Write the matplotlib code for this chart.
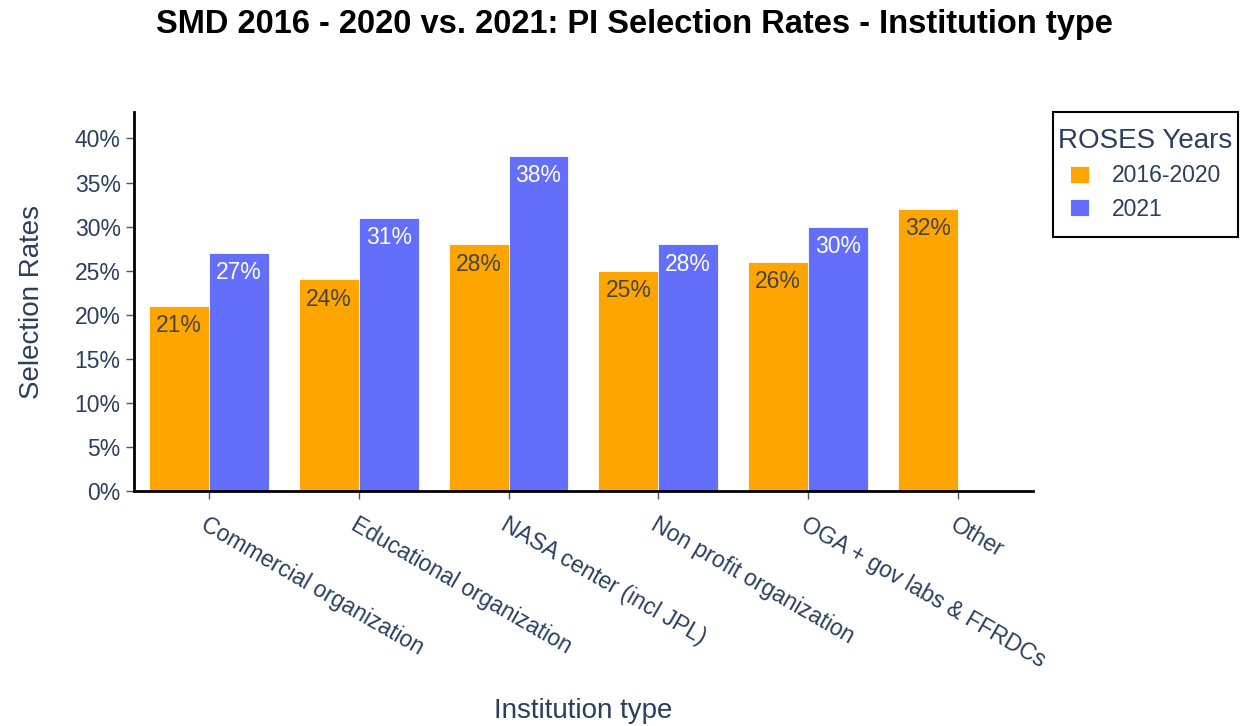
import numpy as np
import matplotlib
matplotlib.use("Agg")
from matplotlib import pyplot as plt
from matplotlib.ticker import FuncFormatter
from matplotlib.offsetbox import DrawingArea

plt.rcParams['font.family'] = ['Liberation Sans', 'DejaVu Sans']

categories = ["Commercial organization", "Educational organization",
              "NASA center (incl JPL)", "Non profit organization",
              "OGA + gov labs & FFRDCs", "Other"]
rates_2016_2020 = [21, 24, 28, 25, 26, 32]
rates_2021 = [27, 31, 38, 28, 30, None]

c_old = "#FFA500"
c_new = "#636EFA"
txt = "#2a3f5f"

fig = plt.figure(figsize=(12.4, 7.26), dpi=100)
ax = fig.add_axes([0.108, 0.3237, 0.725, 0.522])

x = np.arange(len(categories))
w = 0.4
for i, v in enumerate(rates_2016_2020):
    ax.bar(x[i] - w / 2, v, w, color=c_old, edgecolor="white", linewidth=0.6,
           label="2016-2020" if i == 0 else None)
    ax.annotate(f"{v}%", (x[i] - w / 2, v), xytext=(0, -6), textcoords="offset points",
                ha="center", va="top", fontsize=16.5, color="#444444")
for i, v in enumerate(rates_2021):
    if v is None:
        continue
    ax.bar(x[i] + w / 2, v, w, color=c_new, edgecolor="white", linewidth=0.6,
           label="2021" if i == 0 else None)
    ax.annotate(f"{v}%", (x[i] + w / 2, v), xytext=(0, -6), textcoords="offset points",
                ha="center", va="top", fontsize=16.5, color="white")

ax.set_xlim(-0.5, len(categories) - 0.5)
ax.set_ylim(0, 43)
ax.set_yticks(range(0, 41, 5))
ax.yaxis.set_major_formatter(FuncFormatter(lambda v, p: f"{v:.0f}%"))
ax.set_xticks(x)
ax.set_xticklabels(categories, rotation=-30, ha="left", rotation_mode="anchor")

for s in ["top", "right"]:
    ax.spines[s].set_visible(False)
for s in ["left", "bottom"]:
    ax.spines[s].set_linewidth(2)
    ax.spines[s].set_color("black")
ax.tick_params(axis="both", colors="#555555", labelcolor=txt, labelsize=16.5,
               length=6, width=1)
ax.tick_params(axis="x", pad=10)

ax.set_ylabel("Selection Rates", fontsize=20, color=txt)
ax.yaxis.set_label_coords(-0.099, 0.5)
ax.set_xlabel("Institution type", fontsize=20, color=txt)
ax.xaxis.set_label_coords(0.5, -0.545)

fig.suptitle("SMD 2016 - 2020 vs. 2021: PI Selection Rates - Institution type",
             fontsize=23.5, fontweight="bold", x=0.512, y=0.988)

leg = ax.legend(title="ROSES Years", loc="upper left", bbox_to_anchor=(1.022, 1.0),
                borderaxespad=0, fontsize=16.5, title_fontsize=20, frameon=True,
                fancybox=False, framealpha=1, handlelength=0.8, handleheight=0.8,
                handletextpad=1.0, borderpad=0.25, labelspacing=0.45)
# extra vertical room above the title and below the entries
box = leg._legend_box
box._children = [DrawingArea(0, 0)] + list(box._children) + [DrawingArea(0, 0)]
leg.get_frame().set_edgecolor("black")
leg.get_frame().set_linewidth(1.5)
leg.get_title().set_color(txt)
for t in leg.get_texts():
    t.set_color(txt)

fig.savefig("out.png", dpi=100)
